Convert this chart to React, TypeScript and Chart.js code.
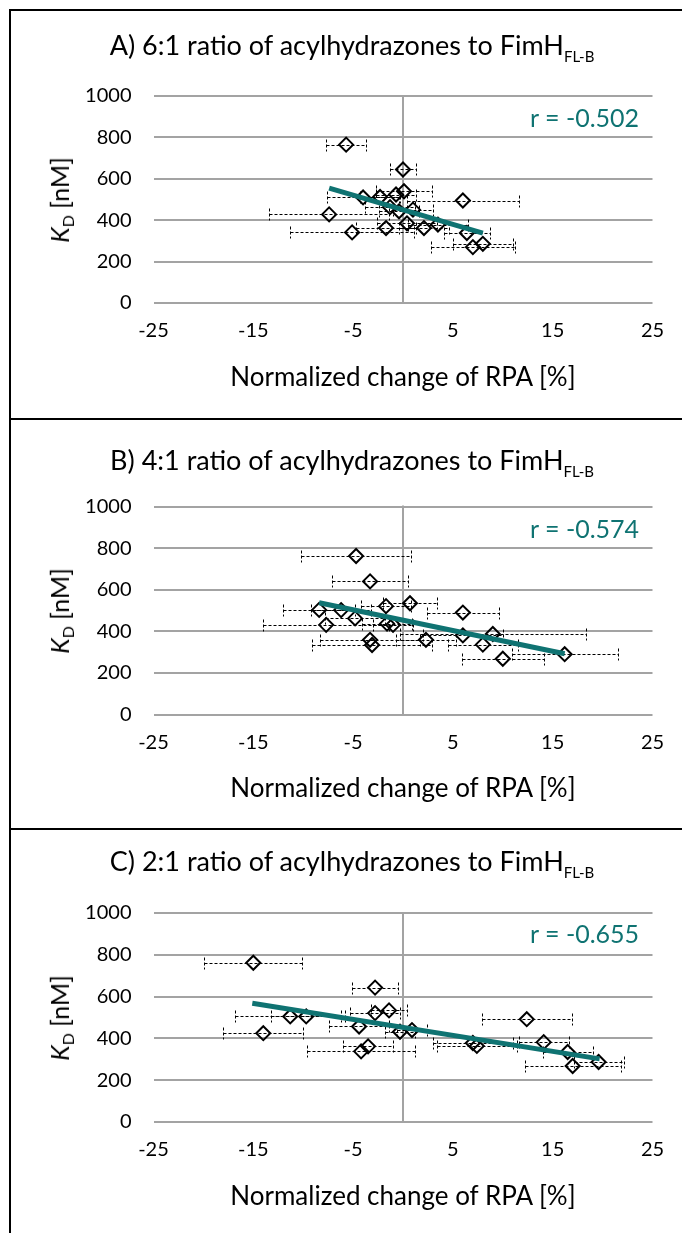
import React, { useEffect, useRef } from "react";
import { Chart, registerables } from "chart.js";

Chart.register(...registerables);

// ---------- shared tick values ----------
const xTickValues = [-25, -15, -5, 5, 15, 25];
const yTickValues = [0, 200, 400, 600, 800, 1000];

// ---------- Panel A: 6:1 ratio ----------
const rpaA = [-5.7, 0.0, 0.1, -0.7, -2.3, -4.0, 6.0, -1.3, -0.4, 1.0, -7.4, -5.1, -1.7, 0.4, 2.1, 3.5, 6.4, 7.0, 8.0];
const kdA = [765, 645, 540, 524, 512, 510, 495, 463, 443, 451, 428, 341, 362, 385, 362, 379, 338, 270, 286];
const errA = [2.0, 1.3, 2.8, 2.0, 2.0, 3.6, 5.6, 2.5, 2.0, 2.0, 6.0, 6.2, 3.0, 3.0, 2.5, 3.0, 2.3, 4.2, 3.0];
const trendRpaA = [-7.4, 8.0];
const trendKdA = [555, 338];
const corrA = "r = -0.502";

// ---------- Panel B: 4:1 ratio ----------
const rpaB = [-4.7, -3.3, 0.7, -1.7, -8.4, -6.2, 6.0, -4.8, -7.7, -1.6, -1.0, 6.0, 9.0, -3.3, -3.1, 2.3, 8.0, 10.0, 16.2];
const kdB = [762, 640, 535, 521, 503, 502, 490, 462, 431, 437, 431, 380, 387, 359, 334, 359, 336, 268, 290];
const errB = [5.5, 3.8, 2.7, 2.5, 3.6, 3.0, 3.6, 3.0, 6.3, 2.5, 2.0, 4.0, 9.3, 5.0, 6.0, 3.0, 3.5, 4.1, 5.3];
const trendRpaB = [-8.4, 16.2];
const trendKdB = [537, 292];
const corrB = "r = -0.574";

// ---------- Panel C: 2:1 ratio ----------
const rpaC = [-15.0, -2.8, -1.4, -2.8, -11.3, -9.7, 12.4, -4.4, -14.0, -0.3, 0.9, -3.5, -4.2, 7.0, 7.4, 14.1, 16.5, 17.0, 19.6];
const kdC = [762, 643, 534, 521, 505, 505, 492, 457, 425, 432, 440, 362, 338, 378, 364, 382, 335, 268, 287];
const errC = [4.9, 2.3, 1.8, 2.5, 5.5, 3.5, 4.5, 3.0, 4.0, 1.5, 1.5, 2.5, 5.4, 4.0, 4.0, 2.5, 2.5, 4.8, 2.5];
const trendRpaC = [-15.1, 19.7];
const trendKdC = [568, 302];
const corrC = "r = -0.655";

// ---------- styles ----------
const TEAL = "#0f7372";
const GRID = "#a3a3a3";
const FONT = "Lato, 'Open Sans', sans-serif";

type Layout = {
  panelTop: number;
  canvasTop: number;
  canvasHeight: number;
  plotTop: number;
  plotBottom: number;
  titleY: number;
  corrY: number;
  xTitleY: number;
};

const PAGE_W = 682;
const CANVAS_LEFT = 11;
const PLOT_LEFT = 153.5;
const PLOT_RIGHT = 652.5;

const errorBarPlugin = {
  id: "errorBars",
  beforeDatasetsDraw(chart: any, _args: any, opts: any) {
    const { ctx, chartArea } = chart;
    const xs = chart.scales.x;
    const ys = chart.scales.y;
    ctx.save();
    // vertical axis line through x = 0
    const x0 = Math.round(xs.getPixelForValue(0));
    ctx.strokeStyle = GRID;
    ctx.lineWidth = 2;
    ctx.beginPath();
    ctx.moveTo(x0, chartArea.top - 1);
    ctx.lineTo(x0, chartArea.bottom + 1);
    ctx.stroke();
    // horizontal error bars
    const rpa: number[] = opts.rpa || [];
    const kd: number[] = opts.kd || [];
    const err: number[] = opts.err || [];
    ctx.strokeStyle = "#000";
    ctx.lineWidth = 1;
    ctx.setLineDash([3, 2]);
    for (let i = 0; i < rpa.length; i++) {
      const a = Math.round(xs.getPixelForValue(rpa[i] - err[i])) + 0.5;
      const b = Math.round(xs.getPixelForValue(rpa[i] + err[i])) + 0.5;
      const py = Math.round(ys.getPixelForValue(kd[i])) + 0.5;
      ctx.beginPath();
      ctx.moveTo(a, py);
      ctx.lineTo(b, py);
      ctx.moveTo(a, py - 6);
      ctx.lineTo(a, py + 6);
      ctx.moveTo(b, py - 6);
      ctx.lineTo(b, py + 6);
      ctx.stroke();
    }
    ctx.restore();
  },
};

type PanelProps = {
  label: string;
  rpa: number[];
  kd: number[];
  err: number[];
  trendRpa: number[];
  trendKd: number[];
  corr: string;
  layout: Layout;
};

function Panel({ label, rpa, kd, err, trendRpa, trendKd, corr, layout }: PanelProps) {
  const ref = useRef<HTMLCanvasElement>(null);
  const canvasW = PAGE_W - CANVAS_LEFT;

  useEffect(() => {
    const canvas = ref.current;
    if (!canvas) return;
    const yAxisW = PLOT_LEFT - CANVAS_LEFT;
    const padTop = layout.plotTop - layout.canvasTop;
    const xAxisH = layout.canvasTop + layout.canvasHeight - layout.plotBottom;
    const chart = new Chart(canvas, {
      type: "scatter",
      data: {
        datasets: [
          {
            label: "trend",
            data: trendRpa.map((x, i) => ({ x, y: trendKd[i] })),
            showLine: true,
            borderColor: TEAL,
            borderWidth: 5,
            pointRadius: 0,
            pointHoverRadius: 0,
            order: 0,
          } as any,
          {
            label: "KD",
            data: rpa.map((x, i) => ({ x, y: kd[i] })),
            showLine: false,
            pointStyle: "rectRot",
            pointRadius: 7,
            pointHoverRadius: 7,
            borderColor: "#000",
            backgroundColor: "rgba(0,0,0,0)",
            borderWidth: 2,
            order: 1,
          } as any,
        ],
      },
      options: {
        animation: false,
        responsive: false,
        maintainAspectRatio: false,
        devicePixelRatio: 1,
        events: [],
        layout: { padding: { top: padTop, right: PAGE_W - PLOT_RIGHT, left: 0, bottom: 0 } },
        plugins: {
          legend: { display: false },
          tooltip: { enabled: false },
          title: { display: false },
          errorBars: { rpa, kd, err },
        } as any,
        scales: {
          x: {
            type: "linear",
            min: -25,
            max: 25,
            afterBuildTicks: (s: any) => {
              s.ticks = xTickValues.map((v) => ({ value: v }));
            },
            afterFit: (s: any) => {
              s.height = xAxisH;
            },
            grid: { display: false },
            border: { display: false },
            ticks: {
              autoSkip: false,
              maxRotation: 0,
              padding: 8,
              color: "#000",
              font: { family: FONT, size: 20 },
              callback: (v: any) => String(v),
            },
          },
          y: {
            type: "linear",
            min: 0,
            max: 1000,
            afterBuildTicks: (s: any) => {
              s.ticks = yTickValues.map((v) => ({ value: v }));
            },
            afterFit: (s: any) => {
              s.width = yAxisW;
            },
            grid: { color: GRID, lineWidth: 2, drawTicks: false },
            border: { display: false },
            ticks: {
              padding: 22,
              color: "#000",
              font: { family: FONT, size: 20 },
              callback: (v: any) => String(v),
            },
          },
        },
      },
      plugins: [errorBarPlugin],
    });
    return () => chart.destroy();
  }, []);

  const plotMid = (layout.plotTop + layout.plotBottom) / 2;

  return (
    <>
      <canvas
        ref={ref}
        width={canvasW}
        height={layout.canvasHeight}
        style={{ position: "absolute", left: CANVAS_LEFT, top: layout.canvasTop, width: canvasW, height: layout.canvasHeight }}
      />
      <div
        style={{
          position: "absolute",
          left: 0,
          width: 704,
          top: layout.titleY - 17,
          height: 34,
          lineHeight: "34px",
          textAlign: "center",
          fontFamily: FONT,
          fontSize: 27,
          color: "#000",
          whiteSpace: "nowrap",
        }}
      >
        {label} ratio of acylhydrazones to FimH
        <span style={{ fontSize: 15, position: "relative", top: 7 }}>FL-B</span>
      </div>
      <div
        style={{
          position: "absolute",
          left: 530,
          top: layout.corrY - 16,
          height: 32,
          lineHeight: "32px",
          fontFamily: FONT,
          fontSize: 25,
          color: TEAL,
          whiteSpace: "nowrap",
        }}
      >
        {corr}
      </div>
      <div
        style={{
          position: "absolute",
          left: 0,
          width: 806,
          top: layout.xTitleY - 17,
          height: 34,
          lineHeight: "34px",
          textAlign: "center",
          fontFamily: FONT,
          fontSize: 26,
          color: "#000",
          whiteSpace: "nowrap",
        }}
      >
        Normalized change of RPA [%]
      </div>
      <div
        style={{
          position: "absolute",
          left: 61,
          top: plotMid,
          transform: "translate(-50%, -50%) rotate(-90deg)",
          fontFamily: FONT,
          fontSize: 25,
          lineHeight: "32px",
          color: "#000",
          whiteSpace: "nowrap",
        }}
      >
        <i>K</i>
        <span style={{ fontSize: 16, position: "relative", top: 5 }}>D</span> [nM]
      </div>
    </>
  );
}

const layoutA: Layout = { panelTop: 10, canvasTop: 11, canvasHeight: 408, plotTop: 96, plotBottom: 303, titleY: 45, corrY: 117, xTitleY: 376 };
const layoutB: Layout = { panelTop: 419, canvasTop: 420, canvasHeight: 408, plotTop: 506.5, plotBottom: 714.5, titleY: 460, corrY: 528, xTitleY: 787 };
const layoutC: Layout = { panelTop: 829, canvasTop: 830, canvasHeight: 403, plotTop: 913, plotBottom: 1122, titleY: 861, corrY: 933, xTitleY: 1195 };

export default function App() {
  const borders = [layoutA.panelTop, layoutB.panelTop, layoutC.panelTop];
  return (
    <div style={{ position: "absolute", left: 0, top: 0, width: PAGE_W, height: 1233, overflow: "hidden", background: "#fff" }}>
      <div style={{ position: "absolute", left: 9, top: 9, width: 2, height: 1233, background: "#000" }} />
      {borders.map((t) => (
        <div key={t} style={{ position: "absolute", left: 9, top: t - 1, width: PAGE_W - 9, height: 2, background: "#000" }} />
      ))}
      <Panel label="A) 6:1" rpa={rpaA} kd={kdA} err={errA} trendRpa={trendRpaA} trendKd={trendKdA} corr={corrA} layout={layoutA} />
      <Panel label="B) 4:1" rpa={rpaB} kd={kdB} err={errB} trendRpa={trendRpaB} trendKd={trendKdB} corr={corrB} layout={layoutB} />
      <Panel label="C) 2:1" rpa={rpaC} kd={kdC} err={errC} trendRpa={trendRpaC} trendKd={trendKdC} corr={corrC} layout={layoutC} />
    </div>
  );
}
